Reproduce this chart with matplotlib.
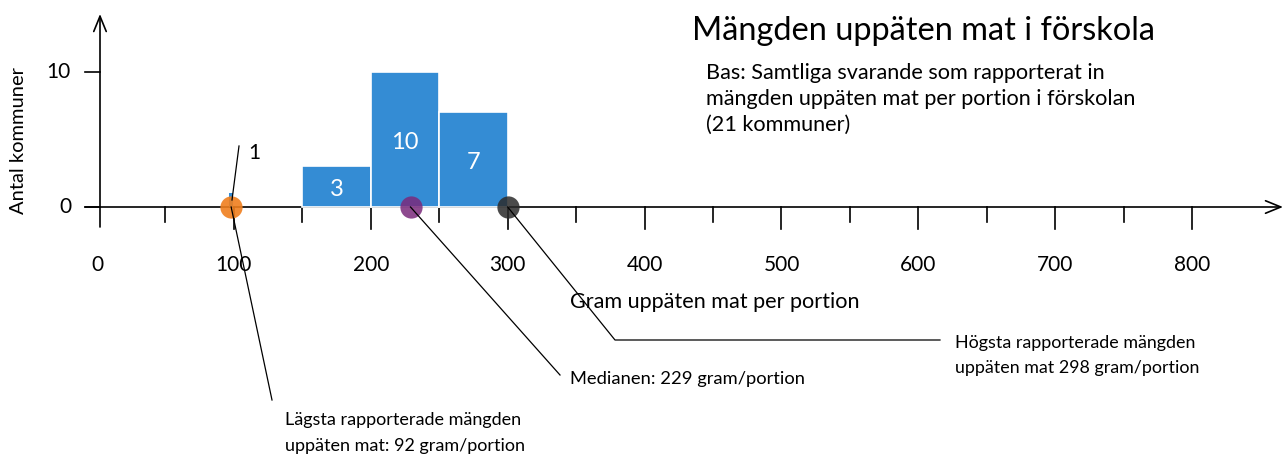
import matplotlib
matplotlib.use("Agg")
import matplotlib.pyplot as plt

# ---- data ----
bin_left = [150, 200, 250]
bin_counts = [3, 10, 7]
bin_width = 50
single_x = [98]
single_count = [1]
bar_labels = ["3", "10", "7"]
min_val, median_val, max_val = 98, 229, 300
x_ticks = [0, 100, 200, 300, 400, 500, 600, 700, 800]
x_minor = [50, 150, 250, 350, 450, 550, 650, 750]
y_ticks = [0, 10]

title = "Mängden uppäten mat i förskola"
subtitle = ["Bas: Samtliga svarande som rapporterat in",
            "mängden uppäten mat per portion i förskolan",
            "(21 kommuner)"]
label_min = "Lägsta rapporterade mängden\nuppäten mat: 92 gram/portion"
label_med = "Medianen: 229 gram/portion"
label_max = "Högsta rapporterade mängden\nuppäten mat 298 gram/portion"

FONT = ["Lato", "DejaVu Sans"]
plt.rcParams["font.family"] = FONT

W, H = 1285, 455
fig = plt.figure(figsize=(W / 100, H / 100), dpi=100)
ax = fig.add_axes([0, 0, 1, 1])
ax.axis("off")

# pixel mapping: x_px = 97 + 1.369*x ; y_px(top) = 207 - 13.5*y
sx, x0 = 1.369, 97
sy, y0 = 13.5, 207
ax.set_xlim((0 - x0) / sx, (W - x0) / sx)
ax.set_ylim((y0 - H) / sy, y0 / sy)

def px(xp):
    return (xp - x0) / sx

def py(yp):
    return (y0 - yp) / sy

bar_color = "#348CD4"
ax.bar(bin_left, bin_counts, width=bin_width, align="edge", color=bar_color,
       edgecolor="white", linewidth=1.2, zorder=2)
ax.bar(single_x, single_count, width=3, color=bar_color, zorder=2)

for xl, c, t in zip(bin_left, bin_counts, bar_labels):
    ax.text(xl + bin_width / 2, c / 2 - 0.2, t, color="white", fontsize=17,
            ha="center", va="center", zorder=3)

# axes
ax.annotate("", xy=(px(1283), 0), xytext=(px(85), 0),
            arrowprops=dict(arrowstyle="->,head_length=1.1,head_width=0.45", lw=1.2,
                            color="black", shrinkA=0, shrinkB=0), zorder=1)
ax.annotate("", xy=(px(100), py(14)), xytext=(px(100), py(227)),
            arrowprops=dict(arrowstyle="->,head_length=1.1,head_width=0.45", lw=1.2,
                            color="black", shrinkA=0, shrinkB=0), zorder=1)

for t in x_ticks:
    if t != 0:
        ax.plot([t, t], [0, py(229)], color="black", lw=1.2, zorder=1)
    ax.text(t, py(265), str(t), ha="center", va="center", fontsize=15)
for t in x_minor:
    ax.plot([t, t], [0, py(222)], color="black", lw=1.2, zorder=1)
for t in y_ticks:
    ax.plot([px(85), px(100)], [t, t], color="black", lw=1.2, zorder=1)
    ax.text(px(71), t, str(t), ha="right", va="center", fontsize=15)

# points
ax.plot([min_val], [0], "o", ms=16, color="#F07F1E", alpha=0.9, mec="none", zorder=4)
ax.plot([median_val], [0], "o", ms=16, color="#7A2A7C", alpha=0.85, mec="none", zorder=4)
ax.plot([max_val], [0], "o", ms=16, color="#2B2B2B", alpha=0.85, mec="none", zorder=4)

# leader lines
ax.plot([px(239), px(232)], [py(146), py(200)], color="black", lw=0.9, zorder=5)
ax.text(px(248), py(153), "1", fontsize=15, ha="left", va="center")
ax.plot([min_val, px(272)], [0, py(400)], color="black", lw=0.9, zorder=5)
ax.plot([median_val, px(560)], [0, py(375)], color="black", lw=0.9, zorder=5)
ax.plot([max_val, px(615), px(940)], [0, py(340), py(340)], color="black", lw=0.9, zorder=5)

ax.text(px(285), py(433), label_min, fontsize=13, ha="left", va="center", linespacing=1.7)
ax.text(px(570), py(379), label_med, fontsize=13.2, ha="left", va="center")
ax.text(px(955), py(355.5), label_max, fontsize=12.9, ha="left", va="center", linespacing=1.7)

# titles
ax.text(px(692), py(31), title, fontsize=23.4, ha="left", va="center")
ax.text(px(706), py(99), "\n".join(subtitle), fontsize=15.6, ha="left", va="center",
        linespacing=1.38)
ax.text(px(715), py(302), "Gram uppäten mat per portion", fontsize=15.6, ha="center", va="center")
ax.text(px(18), py(140), "Antal kommuner", fontsize=14.5, ha="center", va="center", rotation=90)

fig.savefig("out.png", dpi=100)
